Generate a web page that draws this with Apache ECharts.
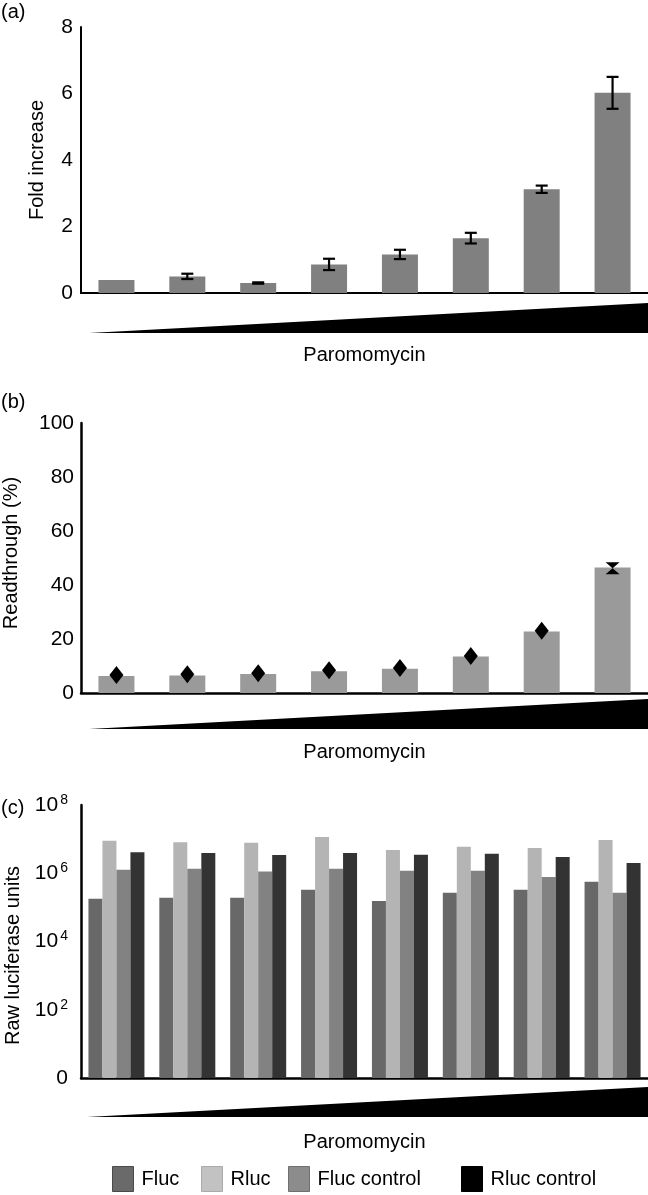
<!DOCTYPE html>
<html>
<head>
<meta charset="utf-8">
<script src="https://cdn.jsdelivr.net/npm/echarts@6/dist/echarts.min.js"></script>
<style>
html,body{margin:0;padding:0;background:#fff;}
#chart{width:648px;height:1195px;}
</style>
</head>
<body>
<div id="chart"></div>
<script>
// ---- data ----
const categories = ['c1', 'c2', 'c3', 'c4', 'c5', 'c6', 'c7', 'c8'];
const foldIncrease = [0.39, 0.50, 0.30, 0.86, 1.16, 1.65, 3.12, 6.02];
const foldError = [0, 0.08, 0.02, 0.17, 0.14, 0.16, 0.11, 0.48];
const readthrough = [6.3, 6.5, 7.0, 8.1, 9.0, 13.5, 22.8, 46.5];
const readthroughMarker = [6.7, 6.9, 7.3, 8.4, 9.3, 13.7, 23.1, 46.2];
const fluc = [1.8e5, 1.9e5, 1.9e5, 3.3e5, 1.55e5, 2.7e5, 3.3e5, 5.6e5];
const rluc = [8.9e6, 8.1e6, 7.8e6, 1.15e7, 4.8e6, 6.0e6, 5.5e6, 9.5e6];
const flucControl = [1.26e6, 1.35e6, 1.12e6, 1.35e6, 1.18e6, 1.18e6, 7.7e5, 2.7e5];
const rlucControl = [4.1e6, 3.9e6, 3.4e6, 3.9e6, 3.5e6, 3.7e6, 3.0e6, 2.0e6];
const seriesNames = ['Fluc', 'Rluc', 'Fluc control', 'Rluc control'];
const xTitle = 'Paromomycin';

const FONT = 'Liberation Sans, Arial, Helvetica, sans-serif';
const chart = echarts.init(document.getElementById('chart'), null, {renderer: 'canvas'});

function xAxisCfg(gridIndex, lw) {
  return {
    type: 'category', gridIndex: gridIndex, data: categories,
    axisLine: {lineStyle: {color: '#000', width: lw}},
    axisTick: {show: false}, axisLabel: {show: false},
    name: xTitle, nameLocation: 'middle',
    nameGap: gridIndex === 0 ? 52 : (gridIndex === 1 ? 49 : 54),
    nameTextStyle: {color: '#000', fontSize: 20, fontFamily: FONT}
  };
}

function errRender(params, api) {
  const i = api.value(0), v = api.value(1), e = api.value(2);
  if (!e) return null;
  const hi = api.coord([i, v + e]);
  const lo = api.coord([i, v - e]);
  const cw = 6;
  const st = {stroke: '#000', lineWidth: 2.2};
  return {
    type: 'group',
    children: [
      {type: 'line', shape: {x1: hi[0], y1: hi[1], x2: lo[0], y2: lo[1]}, style: st},
      {type: 'line', shape: {x1: hi[0] - cw, y1: hi[1], x2: hi[0] + cw, y2: hi[1]}, style: st},
      {type: 'line', shape: {x1: lo[0] - cw, y1: lo[1], x2: lo[0] + cw, y2: lo[1]}, style: st}
    ]
  };
}

const hourglass = 'path://M0,0 L10,0 L5,5 L10,10 L0,10 L5,5 Z';

const gridBase = {left: 81, right: 0, containLabel: false, outerBoundsMode: 'none'};

const option = {
  animation: false,
  backgroundColor: '#fff',
  textStyle: {fontFamily: FONT},
  grid: [
    Object.assign({top: 27, height: 266}, gridBase),
    Object.assign({top: 423, height: 270}, gridBase),
    Object.assign({top: 805, height: 273}, gridBase)
  ],
  xAxis: [xAxisCfg(0, 2), xAxisCfg(1, 2.5), xAxisCfg(2, 2.5)],
  yAxis: [
    {
      type: 'value', gridIndex: 0, min: 0, max: 8, interval: 2,
      axisLine: {show: true, lineStyle: {color: '#000', width: 2}},
      axisTick: {show: false}, splitLine: {show: false},
      axisLabel: {color: '#000', fontSize: 21, fontFamily: FONT, margin: 8},
      name: 'Fold increase', nameLocation: 'middle', nameGap: 34,
      nameTextStyle: {color: '#000', fontSize: 20, fontFamily: FONT}
    },
    {
      type: 'value', gridIndex: 1, min: 0, max: 100, interval: 20,
      axisLine: {show: true, lineStyle: {color: '#000', width: 2.5}},
      axisTick: {show: false}, splitLine: {show: false},
      axisLabel: {color: '#000', fontSize: 21, fontFamily: FONT, margin: 7},
      name: 'Readthrough (%)', nameLocation: 'middle', nameGap: 60,
      nameTextStyle: {color: '#000', fontSize: 20, fontFamily: FONT, padding: [0, 0, 0, 10]}
    },
    {
      type: 'log', gridIndex: 2, logBase: 10, min: 1, max: 1e8, interval: 2,
      axisLine: {show: true, lineStyle: {color: '#000', width: 2.5}},
      axisTick: {show: false}, splitLine: {show: false}, minorTick: {show: false},
      axisLabel: {
        color: '#000', fontSize: 21, fontFamily: FONT, margin: 13,
        formatter: function (v) {
          if (v <= 1) return '{b|0}';
          return '{b|10}{s|' + Math.round(Math.log10(v)) + '}';
        },
        rich: {
          b: {fontSize: 21, fontFamily: FONT, color: '#000', lineHeight: 24},
          s: {fontSize: 14, fontFamily: FONT, color: '#000', verticalAlign: 'top', lineHeight: 24, padding: [0, 0, 10, 2]}
        }
      },
      name: 'Raw luciferase units', nameLocation: 'middle', nameGap: 58,
      nameTextStyle: {color: '#000', fontSize: 20, fontFamily: FONT, padding: [0, 28, 0, 0]}
    }
  ],
  legend: [
    {data: [{name: 'Fluc', itemStyle: {color: '#6a6a6a', borderColor: '#4a4a4a', borderWidth: 1}}], left: 112, top: 1166},
    {data: [{name: 'Rluc', itemStyle: {color: '#c2c2c2', borderColor: '#aaaaaa', borderWidth: 1}}], left: 201, top: 1166},
    {data: [{name: 'Fluc control', itemStyle: {color: '#8c8c8c', borderColor: '#707070', borderWidth: 1}}], left: 288, top: 1166},
    {data: [{name: 'Rluc control', itemStyle: {color: '#000000', borderColor: '#000', borderWidth: 1}}], left: 461, top: 1166}
  ].map(function (l) {
    return Object.assign(l, {
      orient: 'horizontal', icon: 'rect', itemWidth: 21, itemHeight: 25, selectedMode: false,
      padding: 0, textStyle: {color: '#000', fontSize: 20, fontFamily: FONT, padding: [0, 0, 0, 3]}
    });
  }),
  series: [
    {
      type: 'bar', xAxisIndex: 0, yAxisIndex: 0, data: foldIncrease, barWidth: 36,
      itemStyle: {color: '#808080'}, silent: true
    },
    {
      type: 'custom', xAxisIndex: 0, yAxisIndex: 0, renderItem: errRender,
      data: foldIncrease.map(function (v, i) { return [i, v, foldError[i]]; }), silent: true, z: 5
    },
    {
      type: 'bar', xAxisIndex: 1, yAxisIndex: 1, data: readthrough, barWidth: 36,
      itemStyle: {color: '#9a9a9a'}, silent: true
    },
    {
      type: 'scatter', xAxisIndex: 1, yAxisIndex: 1, silent: true, z: 5,
      symbol: 'diamond', symbolSize: [14, 18],
      itemStyle: {color: '#000', opacity: 1},
      data: readthroughMarker.map(function (v, i) {
        return i === readthroughMarker.length - 1 ? {value: v, symbol: hourglass, symbolSize: [14, 12]} : v;
      })
    },
    {name: seriesNames[0], type: 'bar', xAxisIndex: 2, yAxisIndex: 2, data: fluc, barWidth: 14, barGap: '0%', itemStyle: {color: '#686868'}, silent: true},
    {name: seriesNames[1], type: 'bar', xAxisIndex: 2, yAxisIndex: 2, data: rluc, barWidth: 14, barGap: '0%', itemStyle: {color: '#b4b4b4'}, silent: true},
    {name: seriesNames[2], type: 'bar', xAxisIndex: 2, yAxisIndex: 2, data: flucControl, barWidth: 14, barGap: '0%', itemStyle: {color: '#828282'}, silent: true},
    {name: seriesNames[3], type: 'bar', xAxisIndex: 2, yAxisIndex: 2, data: rlucControl, barWidth: 14, barGap: '0%', itemStyle: {color: '#333333'}, silent: true}
  ],
  graphic: [
    {type: 'polygon', shape: {points: [[89, 333], [648, 333], [648, 303]]}, style: {fill: '#000'}, silent: true},
    {type: 'polygon', shape: {points: [[89, 729], [648, 729], [648, 699]]}, style: {fill: '#000'}, silent: true},
    {type: 'polygon', shape: {points: [[87, 1117], [648, 1117], [648, 1087]]}, style: {fill: '#000'}, silent: true},
    {type: 'text', left: 1, top: 2, style: {text: '(a)', fill: '#000', font: '20px ' + FONT}},
    {type: 'text', left: 1, top: 392, style: {text: '(b)', fill: '#000', font: '20px ' + FONT}},
    {type: 'text', left: 1, top: 798, style: {text: '(c)', fill: '#000', font: '20px ' + FONT}}
  ]
};
chart.setOption(option);
</script>
</body>
</html>
